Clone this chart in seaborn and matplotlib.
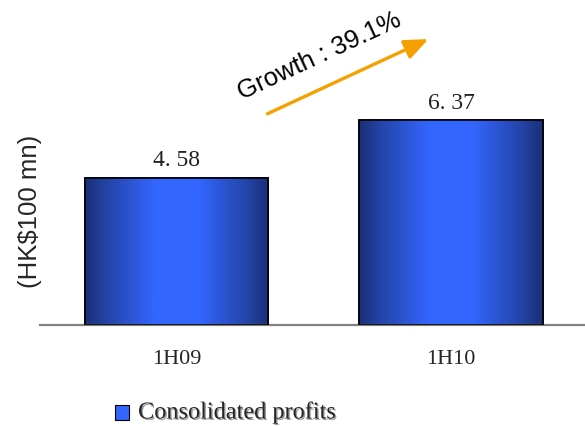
"""Consolidated profits, 1H09 vs 1H10, bar chart with gradient-filled bars."""
import numpy as np
import pandas as pd
import matplotlib
matplotlib.use("Agg")
import matplotlib.pyplot as plt
import matplotlib.patheffects as pe
from matplotlib.colors import LinearSegmentedColormap
from matplotlib.patches import Rectangle
import seaborn as sns

periods = ["1H09", "1H10"]
profits = [4.58, 6.37]
value_labels = ["4. 58", "6. 37"]
series_name = "Consolidated profits"
growth_text = "Growth : 39.1%"
y_label = "(HK$100 mn)"

sns.set_theme(style="white")
plt.rcParams["font.family"] = ["Liberation Sans", "DejaVu Sans"]
SERIF = ["Liberation Serif", "DejaVu Serif"]

df = pd.DataFrame({"period": periods, "profit": profits})

fig = plt.figure(figsize=(5.85, 4.26), dpi=100)
ax = fig.add_axes([40 / 585, 101 / 426, 545 / 585, 325 / 426])

sns.barplot(data=df, x="period", y="profit", ax=ax, width=0.667,
            color="#3366ff", edgecolor="black", linewidth=1.2, zorder=2)

ax.set_xlim(-0.497, 1.488)
ax.set_ylim(0, 10.12)

# horizontal gradient inside each bar: dark edges, bright centre
grad_cmap = LinearSegmentedColormap.from_list(
    "bar_grad",
    [(0.0, "#1a2f78"), (0.12, "#2444a8"), (0.38, "#3366ff"),
     (0.62, "#3366ff"), (0.88, "#2444a8"), (1.0, "#1a2f78")])
grad = np.linspace(0, 1, 256).reshape(1, -1)
for bar in ax.patches:
    x0, w, h = bar.get_x(), bar.get_width(), bar.get_height()
    im = ax.imshow(grad, cmap=grad_cmap, aspect="auto",
                   extent=(x0, x0 + w, 0, h), zorder=2.5)
    im.set_clip_path(bar)
    ax.add_patch(Rectangle((x0, 0), w, h, fill=False, edgecolor="black",
                           linewidth=1.2, zorder=3))

for i, (v, lab) in enumerate(zip(profits, value_labels)):
    ax.text(i, v + 0.2, lab, ha="center", va="bottom", fontsize=17,
            family=SERIF, color="#222222")

# growth arrow and label
ax.annotate("", xy=(0.927, 8.94), xytext=(0.322, 6.54),
            arrowprops=dict(arrowstyle="-|>,head_length=1.2,head_width=0.5",
                            color="#f5a000", lw=2.4))
ax.text(0.24, 7.0, growth_text, rotation=25, rotation_mode="anchor",
        ha="left", va="baseline", fontsize=18.5, color="black")

for side in ["top", "right", "left"]:
    ax.spines[side].set_visible(False)
ax.spines["bottom"].set_color("#808080")
ax.spines["bottom"].set_linewidth(1.6)
ax.set_yticks([])
ax.tick_params(axis="x", length=0, pad=18)
for t in ax.get_xticklabels():
    t.set_fontfamily(SERIF)
    t.set_fontsize(16)
ax.set_xlabel("")
ax.set_ylabel("")

fig.text(30 / 585, 1 - 211 / 426, y_label, rotation=90, ha="center",
         va="center", fontsize=18.5)

# legend swatch + label
swatch = Rectangle((115 / 585, 1 - 420 / 426), 14 / 585, 15 / 426,
                   transform=fig.transFigure, facecolor="#3366ff",
                   edgecolor="black", linewidth=0.8)
fig.patches.append(swatch)
fig.text(138 / 585, 1 - 413 / 426, series_name, ha="left", va="center",
         fontsize=17.5, family=SERIF,
         path_effects=[pe.SimplePatchShadow(offset=(1, -1), alpha=0.4),
                       pe.Normal()])

fig.savefig("out.png", dpi=100)
